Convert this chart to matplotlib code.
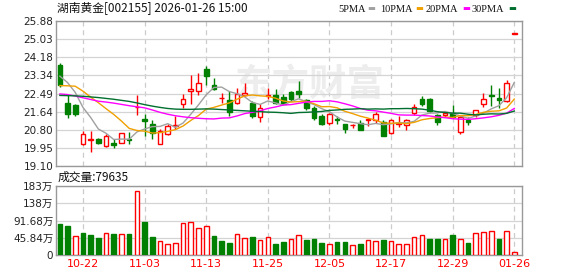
import matplotlib
matplotlib.use('Agg')
import matplotlib.pyplot as plt

plt.rcParams['font.family'] = ['DejaVu Sans', 'Noto Sans CJK SC']

# daily candles, 10-17 .. 01-26 (60 sessions)
opens = [23.84, 22.06, 21.93, 20.15, 20.30, 20.35, 20.04, 20.16, 20.19, 20.35,
         21.85, 21.31, 21.05, 20.11, 20.61, 20.95, 21.98, 22.63, 22.60, 23.65,
         22.88, 22.28, 22.18, 22.06, 22.40, 22.06, 21.39, 22.37, 22.44, 22.32,
         22.57, 22.63, 22.18, 21.82, 21.43, 21.11, 21.30, 21.05, 21.00, 21.12,
         21.25, 21.23, 21.15, 20.66, 21.08, 21.02, 21.56, 22.21, 22.21, 21.47,
         21.47, 21.59, 20.70, 21.26, 21.48, 22.01, 22.44, 22.29, 22.13, 25.29]
highs = [23.92, 22.41, 21.98, 20.74, 20.74, 20.43, 20.58, 20.38, 20.66, 20.70,
         22.44, 21.54, 21.23, 20.81, 21.08, 21.43, 22.47, 23.34, 23.45, 23.76,
         23.22, 22.52, 22.60, 22.75, 22.99, 22.13, 21.98, 22.75, 22.68, 22.47,
         22.63, 23.06, 22.24, 21.90, 21.51, 21.59, 21.43, 21.08, 21.08, 21.26,
         21.31, 21.64, 21.26, 21.28, 21.43, 21.28, 22.01, 22.37, 22.29, 21.51,
         21.67, 21.93, 21.43, 21.39, 21.74, 22.52, 22.91, 22.75, 23.10, 25.29]
lows = [22.80, 21.36, 21.42, 20.08, 19.76, 20.11, 19.99, 19.96, 20.19, 20.12,
        21.47, 20.50, 20.35, 20.11, 20.55, 20.81, 21.82, 21.98, 22.44, 22.91,
        22.65, 22.06, 21.43, 21.98, 22.37, 21.36, 21.17, 22.21, 21.98, 21.98,
        22.13, 22.29, 21.74, 21.25, 21.00, 21.02, 21.05, 20.63, 20.86, 20.77,
        20.97, 21.12, 20.50, 20.61, 20.92, 20.77, 21.48, 21.90, 21.64, 21.01,
        21.39, 21.33, 20.61, 21.02, 21.39, 21.87, 21.90, 21.82, 22.10, 25.29]
closes = [22.91, 21.51, 21.51, 20.58, 20.35, 20.19, 20.50, 20.08, 20.66, 20.33,
          21.87, 21.20, 20.63, 20.74, 20.97, 21.00, 22.21, 22.68, 22.96, 23.30,
          22.71, 22.30, 21.64, 22.47, 22.52, 21.43, 21.82, 22.44, 22.06, 22.02,
          22.21, 22.49, 21.79, 21.33, 21.08, 21.51, 21.25, 20.81, 21.04, 20.78,
          21.28, 21.54, 20.50, 21.23, 21.11, 21.23, 21.87, 21.98, 21.67, 21.15,
          21.59, 21.39, 21.39, 21.14, 21.71, 22.24, 22.35, 22.18, 22.99, 25.29]

ma5 = [23.30, 23.00, 22.54, 21.84, 21.37, 20.83, 20.63, 20.34, 20.36, 20.35,
       20.69, 20.83, 20.94, 20.95, 21.08, 20.91, 21.11, 21.52, 21.96, 22.43,
       22.77, 22.79, 22.58, 22.48, 22.33, 22.07, 21.98, 22.14, 22.05, 21.95,
       22.11, 22.24, 22.11, 21.97, 21.78, 21.64, 21.39, 21.20, 21.14, 21.08,
       21.03, 21.09, 21.03, 21.07, 21.13, 21.12, 21.19, 21.48, 21.57, 21.58,
       21.65, 21.56, 21.44, 21.33, 21.44, 21.57, 21.77, 21.92, 22.29, 23.01]
ma10 = [22.86, 22.85, 22.83, 22.60, 22.32, 22.06, 21.78, 21.51, 21.20, 20.86,
        20.76, 20.73, 20.64, 20.66, 20.72, 20.80, 20.97, 21.23, 21.46, 21.76,
        21.84, 21.95, 22.05, 22.22, 22.38, 22.42, 22.38, 22.36, 22.27, 22.14,
        22.09, 22.11, 22.13, 22.01, 21.87, 21.88, 21.82, 21.66, 21.55, 21.43,
        21.34, 21.24, 21.11, 21.10, 21.11, 21.08, 21.14, 21.26, 21.32, 21.36,
        21.39, 21.37, 21.46, 21.45, 21.51, 21.61, 21.66, 21.68, 21.81, 22.23]
ma20 = [22.47, 22.44, 22.37, 22.29, 22.21, 22.13, 22.09, 22.04, 21.98, 21.92,
        21.87, 21.82, 21.72, 21.61, 21.52, 21.45, 21.40, 21.36, 21.33, 21.31,
        21.30, 21.34, 21.35, 21.44, 21.55, 21.61, 21.68, 21.79, 21.86, 21.95,
        21.97, 22.03, 22.09, 22.12, 22.12, 22.15, 22.10, 22.01, 21.91, 21.79,
        21.71, 21.68, 21.62, 21.56, 21.49, 21.48, 21.48, 21.46, 21.44, 21.39,
        21.36, 21.31, 21.29, 21.28, 21.31, 21.35, 21.40, 21.47, 21.57, 21.79]
ma30 = [22.40, 22.39, 22.38, 22.36, 22.33, 22.30, 22.26, 22.22, 22.17, 22.12,
        22.05, 21.97, 21.90, 21.84, 21.79, 21.76, 21.75, 21.75, 21.76, 21.77,
        21.76, 21.74, 21.72, 21.70, 21.68, 21.66, 21.64, 21.62, 21.61, 21.59,
        21.56, 21.60, 21.61, 21.63, 21.65, 21.70, 21.72, 21.75, 21.76, 21.78,
        21.76, 21.77, 21.76, 21.78, 21.78, 21.79, 21.78, 21.76, 21.71, 21.64,
        21.60, 21.57, 21.57, 21.52, 21.49, 21.52, 21.54, 21.53, 21.56, 21.67]

# volume in 万 shares; 1 = red (up vs previous close), 0 = green
volume = [82, 77, 50, 58, 53, 45, 58, 56, 56, 56,
          170, 88, 48, 37, 29, 32, 85, 88, 72, 77,
          50, 37, 32, 56, 45, 48, 40, 48, 29, 35,
          42, 52, 40, 42, 32, 29, 35, 35, 26, 29,
          40, 37, 40, 37, 29, 29, 48, 52, 42, 42,
          42, 52, 42, 32, 58, 61, 64, 42, 64, 7.9635]
vol_up = [0, 0, 1, 0, 0, 0, 1, 0, 1, 0,
          1, 0, 0, 1, 1, 1, 1, 1, 1, 1,
          0, 0, 0, 1, 1, 0, 1, 1, 0, 0,
          1, 1, 0, 0, 0, 1, 0, 0, 1, 0,
          1, 1, 0, 1, 1, 1, 1, 1, 0, 0,
          1, 0, 1, 0, 1, 1, 1, 0, 1, 1]

date_ticks = [3, 11, 19, 27, 35, 43, 51, 59]
date_labels = ['10-22', '11-03', '11-13', '11-25', '12-05', '12-17', '12-29', '01-26']
price_ticks = [19.10, 19.95, 20.80, 21.64, 22.49, 23.34, 24.18, 25.03, 25.88]
vol_ticks = [0, 45.84, 91.68, 137.52, 183.36]
vol_labels = ['0', '45.84万', '91.68万', '138万', '183万']

RED = '#ff0000'
GREEN = '#008000'
W, H = 578, 276

fig = plt.figure(figsize=(W / 100, H / 100), dpi=100)
ax = fig.add_axes([56 / W, 1 - 166 / H, 466 / W, 145 / H])
axv = fig.add_axes([56 / W, 1 - 255 / H, 466 / W, 69 / H])

n = len(closes)
xs = list(range(n))

for a in (ax, axv):
    a.set_xlim(-0.5, 60.0)
    for s in a.spines.values():
        s.set_color('#999999')
        s.set_linewidth(1)
    a.tick_params(length=0, labelsize=7.5, colors='#222222', pad=2)
    for t in date_ticks:
        a.axvline(t, color='#cccccc', lw=0.9, ls=(0, (4, 3)), zorder=0)
    a.set_xticks(date_ticks)

# watermark
ax.text(0.545, 0.56, '东方财富', transform=ax.transAxes, ha='center', va='center',
        fontsize=27, fontweight='bold', color='#ededed', family=['Noto Sans CJK SC'],
        zorder=0)

ax.set_ylim(19.10, 25.88)
ax.set_yticks(price_ticks)
ax.set_yticklabels(['%.2f' % p for p in price_ticks])
ax.set_xticklabels([])
for p in price_ticks:
    ax.axhline(p, color='#d4d4d4', lw=0.9, zorder=0)

# candles
for i in xs:
    o, h, l, c = opens[i], highs[i], lows[i], closes[i]
    up = c >= o
    col = RED if up else GREEN
    ax.vlines(i, l, h, color=col, lw=1, zorder=3)
    body = max(abs(c - o), 0.015)
    ax.bar(i, body, bottom=min(o, c), width=0.6,
           facecolor='white' if up else GREEN, edgecolor=col, lw=1, zorder=4)

ax.plot(xs, ma5, color='#a0a0a0', lw=1, zorder=5)
ax.plot(xs, ma10, color='#f0a000', lw=1, zorder=5)
ax.plot(xs, ma20, color='#ff00ff', lw=1, zorder=5)
ax.plot(xs, ma30, color='#006f2f', lw=1, zorder=5)

# volume
axv.set_ylim(0, 183.36)
axv.set_yticks(vol_ticks)
axv.set_yticklabels(vol_labels, family=['DejaVu Sans', 'Noto Sans CJK SC'])
for v in vol_ticks[1:]:
    axv.axhline(v, color='#d4d4d4', lw=0.9, zorder=0)
for i in xs:
    if vol_up[i]:
        axv.bar(i, volume[i], width=0.6, facecolor='white', edgecolor=RED, lw=1, zorder=3)
    else:
        axv.bar(i, volume[i], width=0.6, facecolor=GREEN, edgecolor=GREEN, lw=1, zorder=3)
axv.set_xticklabels(date_labels, color=RED, fontsize=8)
axv.tick_params(axis='x', pad=3)

# texts
fig.text(57 / W, 1 - 8 / H, '湖南黄金[002155] 2026-01-26 15:00', fontsize=8.5,
         va='center', ha='left', color='#111111',
         family=['Noto Sans CJK SC', 'DejaVu Sans'])
fig.text(58 / W, 1 - 177 / H, '成交量:79635', fontsize=8.5, va='center', ha='left',
         color='#111111', family=['Noto Sans CJK SC', 'DejaVu Sans'])

legend_items = [('5PMA', '#a0a0a0', 338, 367), ('10PMA', '#f0a000', 380, 415),
                ('20PMA', '#ff00ff', 426, 462), ('30PMA', '#006f2f', 472, 508)]
for name, col, tx, sx in legend_items:
    fig.text(tx / W, 1 - 9 / H, name, fontsize=7.5, va='center', ha='left',
             color='#111111', family='Liberation Serif')
    fig.text(sx / W, 1 - 9 / H, '▬', fontsize=6, va='center', ha='left', color=col)

fig.savefig('out.png', dpi=100)
